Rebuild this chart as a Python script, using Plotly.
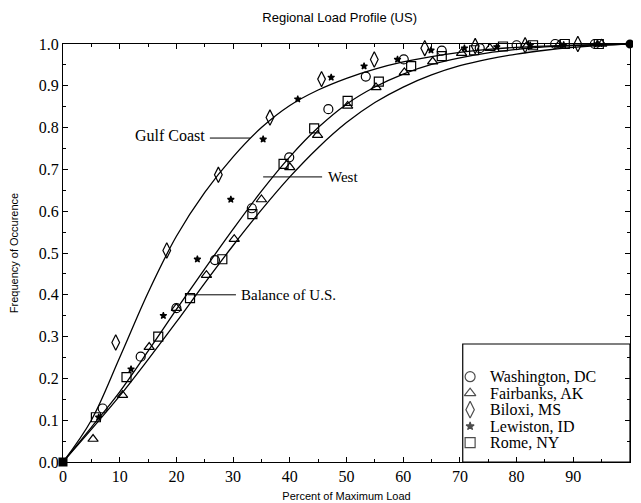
import plotly.graph_objects as go

# ---- Data ----
curve_x = [0, 5, 10, 15, 20, 25, 30, 35, 40, 45, 50, 55, 60, 65, 70, 75, 80, 85, 90, 95, 100]
gulf_coast = [0, 0.10, 0.25, 0.405, 0.54, 0.645, 0.73, 0.80, 0.853, 0.89, 0.918, 0.94, 0.957, 0.97, 0.98, 0.987, 0.992, 0.995, 0.997, 0.999, 1.0]
west = [0, 0.083, 0.168, 0.265, 0.365, 0.462, 0.557, 0.648, 0.73, 0.80, 0.856, 0.897, 0.928, 0.951, 0.967, 0.979, 0.987, 0.993, 0.996, 0.998, 1.0]
balance_us = [0, 0.078, 0.158, 0.245, 0.335, 0.428, 0.518, 0.603, 0.682, 0.752, 0.812, 0.86, 0.897, 0.926, 0.948, 0.964, 0.976, 0.985, 0.992, 0.997, 1.0]

washington_x = [7.0, 13.7, 20.0, 26.8, 33.3, 39.9, 46.8, 53.4, 60.1, 66.8, 73.5, 80.0, 86.8, 93.8]
washington_y = [0.128, 0.252, 0.368, 0.483, 0.607, 0.729, 0.844, 0.922, 0.963, 0.984, 0.99, 0.997, 1.0, 1.0]

fairbanks_x = [5.3, 10.5, 15.2, 20.0, 25.3, 30.2, 35.0, 40.0, 44.9, 50.2, 55.2, 60.2, 65.2, 70.3, 75.3, 81.8, 87.5, 95.0]
fairbanks_y = [0.055, 0.16, 0.275, 0.368, 0.447, 0.533, 0.628, 0.705, 0.782, 0.852, 0.896, 0.932, 0.958, 0.978, 0.99, 0.995, 0.998, 1.0]

biloxi_x = [9.3, 18.3, 27.4, 36.5, 45.6, 54.9, 63.8, 72.7, 81.5, 90.8]
biloxi_y = [0.286, 0.506, 0.687, 0.824, 0.916, 0.963, 0.99, 0.995, 0.997, 1.0]

lewiston_x = [6.3, 12.0, 17.7, 23.7, 29.6, 35.3, 41.4, 47.3, 53.1, 59.0, 64.9, 70.8, 76.5, 82.4, 88.3, 94.2]
lewiston_y = [0.107, 0.222, 0.35, 0.485, 0.628, 0.772, 0.868, 0.92, 0.947, 0.963, 0.985, 0.99, 0.993, 0.997, 0.998, 1.0]

rome_x = [5.8, 11.2, 16.8, 22.4, 28.1, 33.4, 38.9, 44.3, 50.2, 55.7, 61.4, 66.8, 72.5, 77.6, 82.9, 88.5, 94.5]
rome_y = [0.107, 0.203, 0.30, 0.392, 0.485, 0.593, 0.713, 0.798, 0.864, 0.91, 0.947, 0.971, 0.985, 0.994, 0.997, 1.0, 1.0]

endpoint_x = [0, 100]
endpoint_y = [0.0, 1.0]

x_ticks = [0, 10, 20, 30, 40, 50, 60, 70, 80, 90, 100]
y_ticks = [0, 0.1, 0.2, 0.3, 0.4, 0.5, 0.6, 0.7, 0.8, 0.9, 1.0]
y_tick_labels = ["0.0", "0.1", "0.2", "0.3", "0.4", "0.5", "0.6", "0.7", "0.8", "0.9", "1.0"]

legend_names = ["Washington, DC", "Fairbanks, AK", "Biloxi, MS", "Lewiston, ID", "Rome, NY"]
legend_symbols = ["circle-open", "triangle-up-open", "diamond-tall-open", "star", "square-open"]
legend_sizes = [10, 10, 12, 6, 10]

SERIF = "Liberation Serif"
SANS = "Liberation Sans"

# page has an 8px body margin: figure is sized to fill the rest of the 641x503 window
FIG_W, FIG_H = 633, 495
PLOT_L, PLOT_T, PLOT_W, PLOT_H = 55, 36, 567, 418

fig = go.Figure()

for ys in (gulf_coast, west, balance_us):
    fig.add_trace(go.Scatter(x=curve_x, y=ys, mode="lines",
                             line=dict(color="black", width=1.3, shape="spline", smoothing=1.0),
                             showlegend=False, hoverinfo="skip", cliponaxis=False))

series = [
    (washington_x, washington_y, 9),
    (fairbanks_x, fairbanks_y, 9),
    (biloxi_x, biloxi_y, 11),
    (lewiston_x, lewiston_y, 5),
    (rome_x, rome_y, 9),
]
for (xs, ys, size), name, sym in zip(series, legend_names, legend_symbols):
    fig.add_trace(go.Scatter(x=xs, y=ys, mode="markers", name=name, showlegend=False,
                             marker=dict(symbol=sym, size=size, color="black",
                                         line=dict(color="black", width=1.2)),
                             cliponaxis=False))

fig.add_trace(go.Scatter(x=endpoint_x, y=endpoint_y, mode="markers", showlegend=False,
                         marker=dict(symbol=["square", "circle"], size=9, color="black"),
                         cliponaxis=False, hoverinfo="skip"))

# manual legend (overlay axes in 0..1 units); rows measured from plot bottom in px
row_first_px, row_step_px = 85.3, 16.5
leg_y = [(row_first_px - i * row_step_px) / PLOT_H for i in range(len(legend_names))]
fig.add_trace(go.Scatter(x=[0.718] * len(legend_names), y=leg_y, mode="markers", xaxis="x2", yaxis="y2",
                         showlegend=False, hoverinfo="skip", cliponaxis=False,
                         marker=dict(symbol=legend_symbols, size=legend_sizes, color="black",
                                     line=dict(color="black", width=1.2))))
for name, yv in zip(legend_names, leg_y):
    fig.add_annotation(xref="paper", yref="paper", x=0.749, y=yv, text=name, showarrow=False,
                       xanchor="left", yanchor="middle", font=dict(family=SERIF, size=16, color="black"))

fig.add_shape(type="rect", xref="paper", yref="paper", x0=0.705, x1=1.0, y0=0.0, y1=118 / PLOT_H,
              line=dict(color="black", width=1.2), fillcolor="white", layer="below")

# label leader lines
for (xa, xb, yv) in [(25.9, 33.0, 0.775), (35.3, 45.7, 0.682), (22.0, 30.5, 0.40)]:
    fig.add_shape(type="line", x0=xa, x1=xb, y0=yv, y1=yv, line=dict(color="black", width=1))

fig.add_annotation(x=25.4, y=0.782, text="Gulf Coast", showarrow=False, xanchor="right",
                   font=dict(family=SERIF, size=16, color="black"))
fig.add_annotation(x=46.3, y=0.682, text="West", showarrow=False, xanchor="left",
                   font=dict(family=SERIF, size=15, color="black"))
fig.add_annotation(x=31.0, y=0.40, text="Balance of U.S.", showarrow=False, xanchor="left",
                   font=dict(family=SERIF, size=15, color="black"))

fig.update_layout(
    width=FIG_W, height=FIG_H,
    margin=dict(l=PLOT_L, r=FIG_W - PLOT_L - PLOT_W, t=PLOT_T, b=FIG_H - PLOT_T - PLOT_H),
    paper_bgcolor="white", plot_bgcolor="white",
    showlegend=False,
    title=dict(text="Regional Load Profile (US)", x=0.524, xanchor="center", y=0.98, yanchor="middle",
               font=dict(family=SANS, size=13, color="black")),
    xaxis=dict(range=[0, 100], tickvals=x_ticks, ticks="inside", ticklen=5, tickcolor="black", automargin=False,
               showgrid=False, zeroline=False, showline=True, linecolor="black", linewidth=1.3, mirror="ticks",
               tickfont=dict(family=SERIF, size=16, color="black"),
               minor=dict(ticks="inside", ticklen=3, dtick=5, tickcolor="black"),
               title=dict(text="Percent of Maximum Load", font=dict(family=SANS, size=11, color="black"), standoff=7)),
    yaxis=dict(range=[0, 1.0], tickvals=y_ticks, ticktext=y_tick_labels, ticks="inside", ticklen=5, tickcolor="black",
               automargin=False,
               showgrid=False, zeroline=False, showline=True, linecolor="black", linewidth=1.3, mirror="ticks",
               tickfont=dict(family=SERIF, size=16, color="black"),
               minor=dict(ticks="inside", ticklen=3, dtick=0.05, tickcolor="black"),
               title=dict(text="Frequency of Occurence", font=dict(family=SANS, size=11, color="black"), standoff=21)),
    xaxis2=dict(range=[0, 1], overlaying="x", anchor="y2", visible=False, fixedrange=True),
    yaxis2=dict(range=[0, 1], overlaying="y", anchor="x2", visible=False, fixedrange=True),
)

fig.write_html("out.html")
